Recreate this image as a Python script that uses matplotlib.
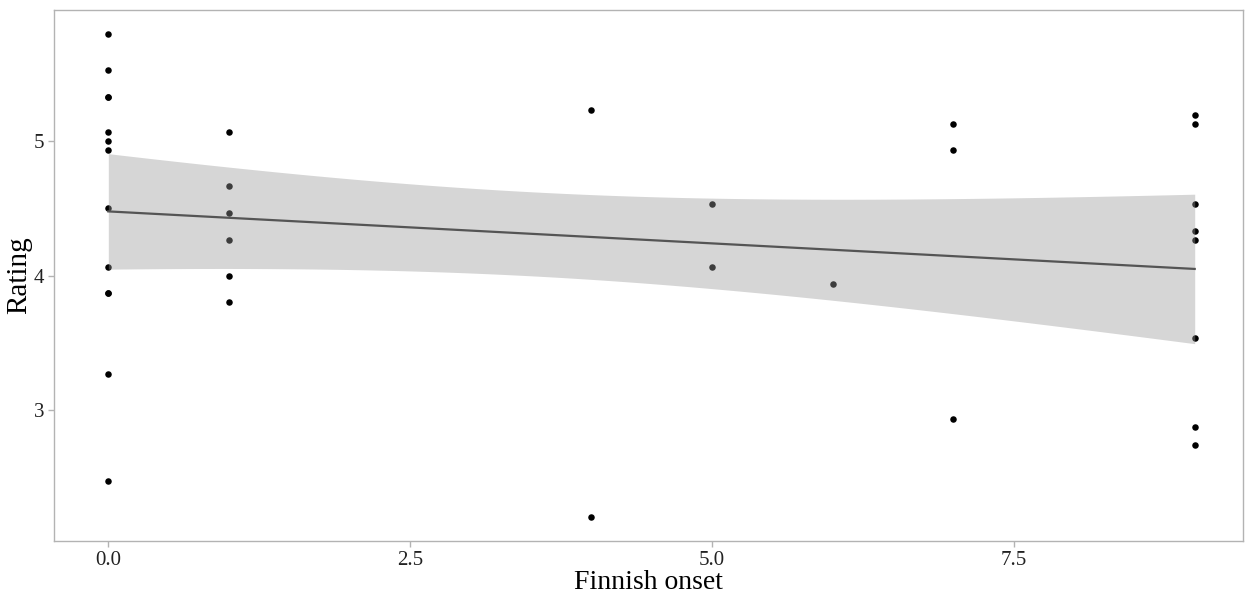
import numpy as np
import matplotlib
matplotlib.use("Agg")
import matplotlib.pyplot as plt

# data: Finnish onset vs Rating
onset = [0]*13 + [1]*6 + [4]*2 + [5]*2 + [6] + [7]*3 + [9]*8
rating = [5.800, 5.533, 5.333, 5.333, 5.067, 5.000, 4.933, 4.500, 4.067, 3.867, 3.867, 3.267, 2.467,
          5.067, 4.667, 4.467, 4.267, 4.000, 3.800,
          5.233, 2.200,
          4.533, 4.067,
          3.933,
          5.133, 4.933, 2.933,
          5.200, 5.133, 4.533, 4.333, 4.267, 3.533, 2.867, 2.733]
xticks = [0.0, 2.5, 5.0, 7.5]
xticklabels = ["0.0", "2.5", "5.0", "7.5"]
yticks = [3, 4, 5]

x = np.array(onset, float)
y = np.array(rating, float)

# linear fit with 95% CI (like geom_smooth(method='lm'))
n = len(x)
b1, b0 = np.polyfit(x, y, 1)
xs = np.linspace(x.min(), x.max(), 80)
yhat = b0 + b1 * xs
resid = y - (b0 + b1 * x)
s = np.sqrt(np.sum(resid**2) / (n - 2))
sxx = np.sum((x - x.mean())**2)
se = s * np.sqrt(1.0 / n + (xs - x.mean())**2 / sxx)
from math import gamma
def t_ppf975(df):
    def pdf(t):
        return gamma((df+1)/2)/(np.sqrt(df*np.pi)*gamma(df/2))*(1+t*t/df)**(-(df+1)/2)
    def cdf(t):
        g = np.linspace(0, t, 4001)
        return 0.5 + np.trapezoid(pdf(g), g)
    lo, hi = 0.0, 10.0
    for _ in range(60):
        mid = (lo+hi)/2
        if cdf(mid) < 0.975:
            lo = mid
        else:
            hi = mid
    return (lo+hi)/2
tq = t_ppf975(n - 2)

plt.rcParams['font.family'] = ['Liberation Serif', 'DejaVu Serif']

fig = plt.figure(figsize=(12.47, 5.94), dpi=100)
ax = fig.add_axes([54/1247, 1-541/594, (1243-54)/1247, (541-10)/594])

ax.scatter(x, y, s=22, color='black', zorder=2, linewidths=0)
ax.fill_between(xs, yhat - tq*se, yhat + tq*se, color='#999999', alpha=0.4, linewidth=0, zorder=3)
ax.plot(xs, yhat, color='#555555', linewidth=1.6, zorder=4)

ax.set_xlim(-0.45, 9.4)
ax.set_ylim(2.02, 5.98)
ax.set_xticks(xticks)
ax.set_xticklabels(xticklabels)
ax.set_yticks(yticks)
for sp in ax.spines.values():
    sp.set_color('#b3b3b3')
    sp.set_linewidth(1.0)
ax.tick_params(axis='both', colors='#b3b3b3', labelcolor='#222222', labelsize=15, length=4, width=1, pad=3)
ax.set_xlabel('Finnish onset', fontsize=20, labelpad=0)
ax.set_ylabel('Rating', fontsize=21, labelpad=1)

fig.savefig('out.png', dpi=100)
